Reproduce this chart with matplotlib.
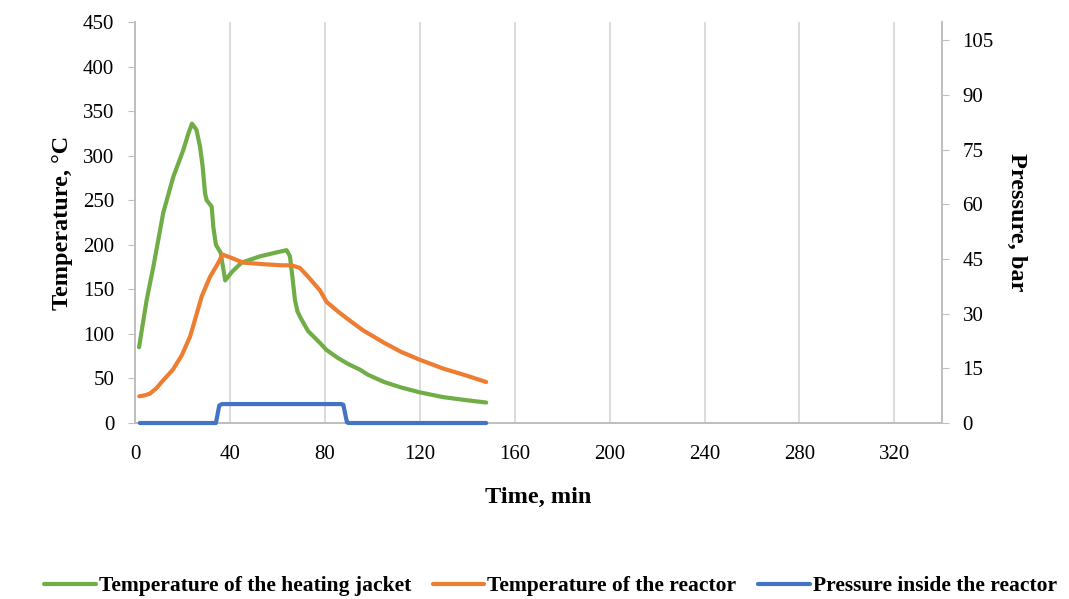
import matplotlib
matplotlib.use('Agg')
import matplotlib.pyplot as plt

# heating jacket temperature, C
t_jacket = [1.7, 4.9, 7.7, 11.9, 16.1, 20.3, 22.5, 24.0, 25.9, 27.4, 28.5, 29.5, 30.2, 32.3, 33.0,
            34.1, 36.1, 38.0, 41.0, 44.9, 52.6, 58.9, 63.9, 65.3, 66.5, 67.4, 68.5, 70.2, 73.0,
            77.9, 80.7, 85.5, 90.0, 94.7, 98.3, 105.0, 112.0, 120.0, 130.0, 140.0, 148.0]
T_jacket = [85, 138, 175, 236, 276, 306, 325, 336, 329, 310, 288, 258, 250, 243, 220,
            200, 191, 160, 170, 180, 187, 191, 194, 187, 160, 138, 125, 116, 103,
            90, 82, 73, 66, 60, 54, 46, 40, 34.4, 29, 25.5, 23]

# reactor temperature, C
t_reactor = [1.8, 4.0, 6.3, 9.0, 11.9, 16.0, 19.7, 23.2, 25.5, 28.1, 31.6, 34.5, 36.9, 40.0,
             45.6, 55.4, 62.0, 66.0, 69.5, 73.0, 77.9, 80.7, 85.6, 90.0, 96.1, 105.0, 112.0,
             120.0, 130.0, 140.0, 148.0]
T_reactor = [30, 31, 33, 39, 48, 60, 76, 97, 118, 142, 164, 177, 189, 186,
             180, 178, 177, 177, 174, 164, 149, 136, 125, 116, 104, 90, 80,
             71, 61, 53, 46]

# pressure inside the reactor, bar
t_press = [2.0, 34.1, 35.5, 36.6, 87.0, 87.8, 89.3, 90.0, 148.0]
p_press = [0, 0, 4.8, 5.2, 5.2, 5.0, 0.2, 0, 0]

xticks = [0, 40, 80, 120, 160, 200, 240, 280, 320]
yticks_left = [0, 50, 100, 150, 200, 250, 300, 350, 400, 450]
yticks_right = [0, 15, 30, 45, 60, 75, 90, 105]

plt.rcParams['font.family'] = ['Liberation Serif', 'DejaVu Serif']

fig = plt.figure(figsize=(10.69, 5.99), dpi=100)
ax = fig.add_axes([0.1263, 0.2938, 0.7547, 0.6694])
ax2 = ax.twinx()

green = '#70ad47'
orange = '#ed7d31'
blue = '#4472c4'
gray = '#bfbfbf'

l1, = ax.plot(t_jacket, T_jacket, color=green, lw=3, solid_capstyle='round', solid_joinstyle='round')
l2, = ax.plot(t_reactor, T_reactor, color=orange, lw=3, solid_capstyle='round', solid_joinstyle='round')
l3, = ax2.plot(t_press, p_press, color=blue, lw=3, solid_capstyle='round',
               solid_joinstyle='round', clip_on=False, zorder=5)

ax.set_xlim(0, 340)
ax.set_ylim(0, 450)
ax2.set_ylim(0, 110)
ax.set_xticks(xticks)
ax.set_yticks(yticks_left)
ax2.set_yticks(yticks_right)

ax.grid(axis='x', color='#d9d9d9', lw=1.3)
ax.set_axisbelow(True)

for a in (ax, ax2):
    a.spines['top'].set_visible(False)
    for s in ('left', 'right', 'bottom'):
        a.spines[s].set_color(gray)
        a.spines[s].set_linewidth(1.3)
ax.tick_params(axis='x', length=0, labelsize=15, pad=16)
ax.tick_params(axis='y', length=5, color=gray, labelsize=15, pad=10)
ax2.tick_params(axis='y', length=5, color=gray, labelsize=15, pad=10)

ax.set_xlabel('Time, min', fontsize=17.5, fontweight='bold', labelpad=16)
ax.set_ylabel('Temperature, °C', fontsize=17.5, fontweight='bold', labelpad=7)
ax2.set_ylabel('Pressure, bar', fontsize=17.5, fontweight='bold', rotation=-90, labelpad=24)

fig.legend([l1, l2, l3],
           ['Temperature of the heating jacket', 'Temperature of the reactor',
            'Pressure inside the reactor'],
           loc='center', bbox_to_anchor=(0.515, 0.021), ncol=3, frameon=False,
           prop={'weight': 'bold', 'size': 15.5}, handlelength=2.4, handletextpad=0.15,
           columnspacing=1.0)

fig.savefig('out.png', dpi=100)
